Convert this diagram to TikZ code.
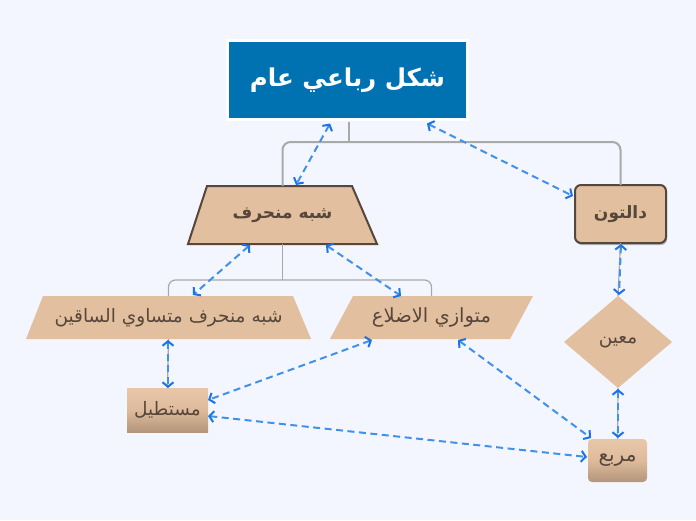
\documentclass[tikz,border=0pt]{standalone}
\usepackage{fontspec}
\setmainfont{DejaVu Sans}
\newfontfamily\arabicfont[Script=Arabic]{DejaVu Sans}
\TeXXeTstate=1
\usetikzlibrary{arrows.meta,shapes.geometric,shadows,calc}
\pgfdeclarelayer{bg}
\pgfsetlayers{bg,main}
\definecolor{bgc}{HTML}{F3F6FE}
\definecolor{titleblue}{HTML}{0072B1}
\definecolor{tan}{HTML}{E2BF9F}
\definecolor{tantop}{HTML}{E8C7A9}
\definecolor{tanbot}{HTML}{B4957B}
\definecolor{brown}{HTML}{57473A}
\definecolor{treegray}{HTML}{A9A9A9}
\definecolor{arrc}{HTML}{4191EA}
\definecolor{tipc}{HTML}{1A73E8}
\begin{document}
\begin{tikzpicture}[x=1pt,y=-1pt,
  lbl/.style={inner sep=0pt, outer sep=0pt, text=brown, font=\arabicfont\fontsize{18.5}{21}\selectfont},
  boldlbl/.style={lbl, font=\arabicfont\bfseries\fontsize{17}{20}\selectfont},
  titlebox/.style={rectangle, fill=titleblue, draw=white, line width=3pt, outer sep=0pt, inner sep=0pt,
     minimum width=240pt, minimum height=79pt, text=white, font=\arabicfont\bfseries\fontsize{24.5}{28}\selectfont},
  gradbox/.style={lbl, rectangle, top color=tantop, bottom color=tanbot, middle color=tan!90!tanbot},
  tree/.style={draw=treegray, line width=1.2pt, rounded corners=7pt},
  treethick/.style={draw=treegray, line width=2pt, rounded corners=8pt},
  arr/.style={draw=arrc, line width=2pt, dash pattern=on 7pt off 4.5pt,
     {Straight Barb[length=4.5pt,width=11pt,color=tipc,line width=2pt]}-{Straight Barb[length=4.5pt,width=11pt,color=tipc,line width=2pt]}}
]
\begin{pgfonlayer}{bg}
\fill[bgc] (0,0) rectangle (696,520);
\end{pgfonlayer}
\useasboundingbox (0,0) rectangle (696,520);

% nodes
\node[titlebox] (title) at (347.5,80) {\beginR شكل رباعي عام\endR};
\node[boldlbl, minimum width=189pt, minimum height=58pt] (trap) at (282.5,215) {\beginR شبه منحرف\endR};
\node[boldlbl, rectangle, rounded corners=6pt, fill=tan, draw=brown, line width=2pt,
      minimum width=91pt, minimum height=58pt,
      drop shadow={shadow xshift=1pt, shadow yshift=-2pt, opacity=0.45, fill=black!60}] (dalton) at (620.5,214) {\beginR دالتون\endR};
\node[lbl, minimum width=285pt, minimum height=43pt] (isos) at (168.5,317.5) {\beginR شبه منحرف متساوي الساقين\endR};
\node[lbl, minimum width=203pt, minimum height=43pt, font=\arabicfont\fontsize{19.5}{22}\selectfont] (para) at (431.5,317.5) {\beginR متوازي الاضلاع\endR};
\node[gradbox, minimum width=81pt, minimum height=44pt] (rect) at (167.5,410) {\beginR مستطيل\endR};
\node[lbl, diamond, fill=tan, minimum width=108pt, minimum height=92pt] (rhomb) at (618,342) {\beginR معين\endR};
\node[gradbox, rounded corners=4pt, minimum width=59pt, minimum height=43pt, font=\arabicfont\fontsize{20}{22}\selectfont] (sq) at (617.5,460.5) {\beginR مربع\endR};

% polygon shapes behind the labels
\begin{pgfonlayer}{bg}
\filldraw[fill=tan, draw=brown, line width=2pt, line join=miter]
  (trap.south west) -- (trap.south east) -- ($(trap.north east)+(-25,0)$) -- ($(trap.north west)+(19,0)$) -- cycle;
\fill[tan] (isos.south west) -- (isos.south east) -- ($(isos.north east)+(-18,0)$) -- ($(isos.north west)+(17,0)$) -- cycle;
\fill[tan] (para.south west) -- ($(para.south east)+(-23,0)$) -- (para.north east) -- ($(para.north west)+(23,0)$) -- cycle;
\end{pgfonlayer}

% tree connectors
\draw[treethick] ($(title.south)+(1.5,2)$) -- ++(0,21);
\draw[treethick] (trap.north) -- ++(0,-44) -| (dalton.north);
\draw[tree] (trap.south) -- ++(0,36);
\draw[tree] (isos.north) -- ++(0,-16) -| (para.north);
\draw[tree] (isos.south) -- (rect.north);
\draw[tree] (dalton.south) -- (rhomb.north);
\draw[tree] (rhomb.south) -- (sq.north);

% dashed relation arrows
\draw[arr] ($(title.south)+(-17.5,4)$) -- ($(trap.north)+(13.5,-1)$);
\draw[arr] ($(title.south)+(79.5,4)$) -- ($(dalton.west)+(-2,-18)$);
\draw[arr] ($(trap.south)+(-32.5,1)$) -- ($(isos.north)+(24.5,-1)$);
\draw[arr] ($(trap.south)+(43.5,1)$) -- ($(para.north)+(-30.5,0)$);
\draw[arr] ($(isos.south)+(-0.5,1)$) -- ($(rect.north)+(0.5,0)$);
\draw[arr] ($(para.south)+(-59.5,1)$) -- ($(rect.east)+(0,-10)$);
\draw[arr] ($(rect.east)+(0,6)$) -- ($(sq.west)+(-1,-3.5)$);
\draw[arr] ($(para.south)+(26.5,1)$) -- ($(sq.north)+(-26.5,-1)$);
\draw[arr] ($(dalton.south)+(0.5,1)$) -- ($(rhomb.north)+(1,-1)$);
\draw[arr] ($(rhomb.south)+(0,1)$) -- ($(sq.north)+(0.5,-1)$);
\end{tikzpicture}
\end{document}
